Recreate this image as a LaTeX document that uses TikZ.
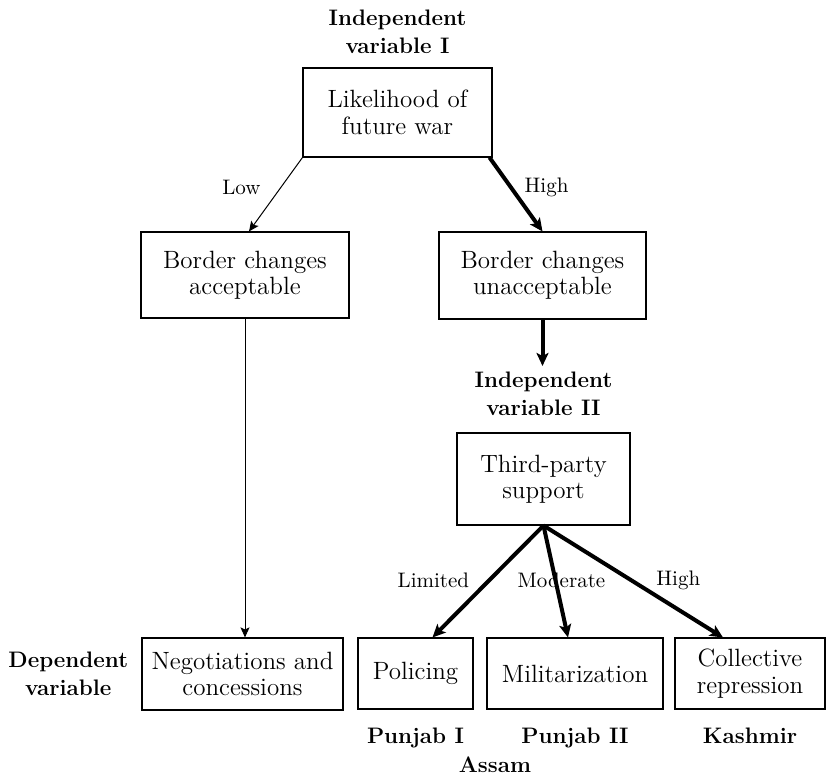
\documentclass[tikz,border=0pt]{standalone}
\usetikzlibrary{positioning,arrows.meta}
\begin{document}
\begin{tikzpicture}[
    x=0.5pt, y=-0.5pt,
    box/.style={
        rectangle,
        draw=black,
        line width=0.55pt,
        font=\fontsize{12.5}{13.2}\selectfont,
        align=center,
        inner sep=0pt
    },
    varlabel/.style={
        font=\fontsize{11.2}{14}\selectfont\bfseries,
        align=center,
        inner sep=0pt
    },
    edgelabel/.style={font=\fontsize{10.5}{12}\selectfont, inner sep=0pt},
    arrow/.style={-{Stealth[length=5pt,width=4.5pt,inset=1pt]}, line width=0.5pt},
    thickarrow/.style={-{Stealth[length=6.5pt,width=6pt,inset=1.5pt]}, line width=2pt}
]
\useasboundingbox (0,0) rectangle (826,777);

% Boxes
\node[box, minimum width=94.5pt, minimum height=44.5pt] (War)   at (397.5,112.5) {Likelihood of\\future war};
\node[box, minimum width=104pt, minimum height=43pt]    (Acc)   at (245,275)     {Border changes\\acceptable};
\node[box, minimum width=103.5pt, minimum height=43.5pt] (Unacc) at (542.5,275.5) {Border changes\\unacceptable};
\node[box, minimum width=86.5pt, minimum height=46pt]   (Third) at (543.5,479)   {Third-party\\support};
\node[box, minimum width=100.5pt, minimum height=36pt]  (Neg)   at (242.5,674)   {Negotiations and\\concessions};
\node[box, minimum width=57.5pt, minimum height=35.5pt] (Pol)   at (415.5,673.5) {Policing};
\node[box, minimum width=88pt, minimum height=35.5pt]   (Mil)   at (575,673.5)   {Militarization};
\node[box, minimum width=75pt, minimum height=35.5pt]   (Rep)   at (750,673.5)   {Collective\\repression};

% Variable labels and cases
\node[varlabel, above=6.5pt of War] (IVa) {Independent\\variable I};
\node[varlabel, above=8pt of Third] (IVb) {Independent\\variable II};
\node[varlabel, left=6.5pt of Neg]  (DV)  {Dependent\\variable};
\node[varlabel, below=9pt of Pol] (PunjabI)  {Punjab I};
\node[varlabel, below=9pt of Mil] (PunjabII) {Punjab II};
\node[varlabel, below=9pt of Rep] (Kashmir)  {Kashmir};
\node[varlabel] (Assam) at (495,765) {Assam};

% Arrows
\draw[arrow] (War.south west) -- node[edgelabel, pos=0.4, left=10pt] {Low} ([xshift=2pt]Acc.north);
\draw[thickarrow] ([xshift=-1.5pt]War.south east) -- node[edgelabel, pos=0.4, right=6pt] {High} (Unacc.north);
\draw[arrow] (Acc.south) -- (Acc.south |- Neg.north);
\draw[thickarrow, shorten >=3pt] (Unacc.south) -- (Unacc.south |- IVb.north);
\draw[thickarrow] (Third.south) -- node[edgelabel, pos=0.49, left=9pt] {Limited} ([xshift=8.5pt]Pol.north);
\draw[thickarrow] (Third.south) -- node[edgelabel, pos=0.49, xshift=3pt] {Moderate} ([xshift=-3.5pt]Mil.north);
\draw[thickarrow] (Third.south) -- node[edgelabel, pos=0.49, right=11.5pt] {High} ([xshift=-13.5pt]Rep.north);

\end{tikzpicture}
\end{document}
